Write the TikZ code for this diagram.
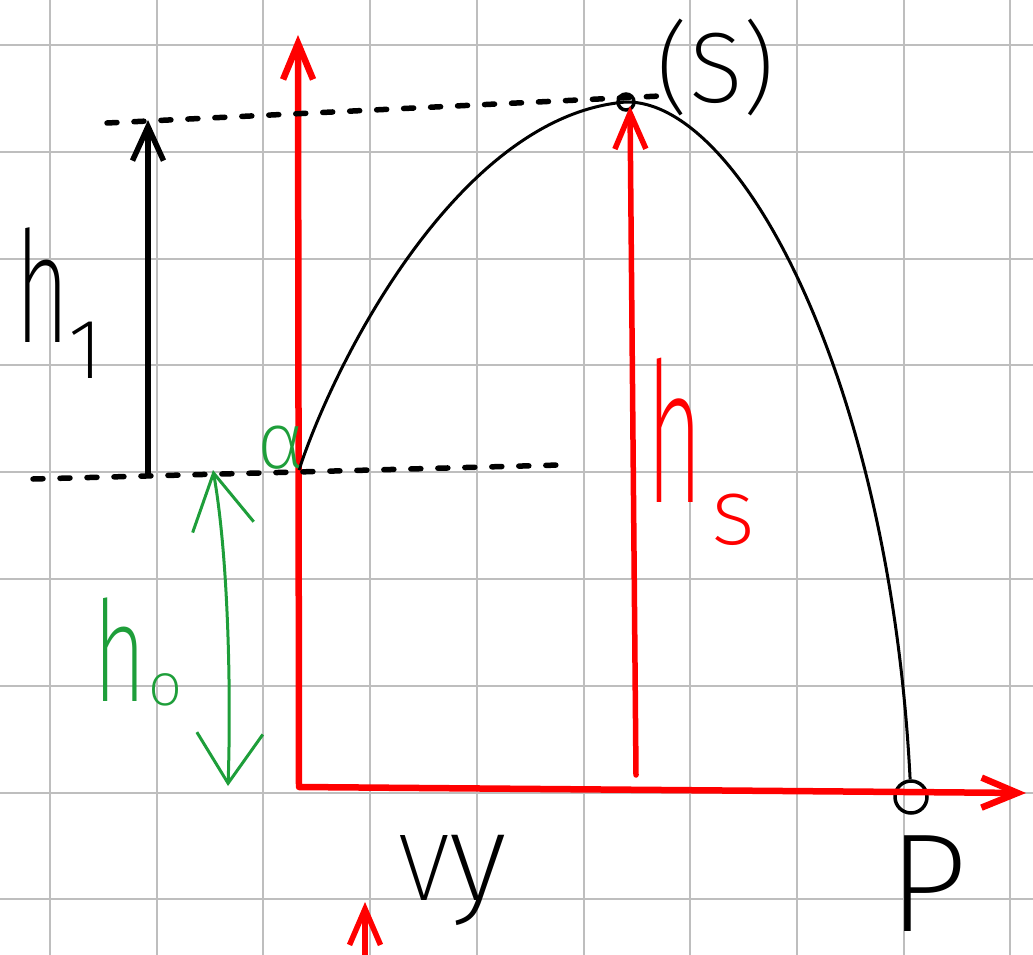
\documentclass[tikz,border=0pt]{standalone}
\usepackage{fontspec}
\usepackage{graphicx}
\usetikzlibrary{arrows.meta}
\IfFontExistsTF{Fira Sans ExtraLight}
  {\newfontfamily\hand{Fira Sans ExtraLight}}
  {\IfFontExistsTF{Fira Sans Light}
     {\newfontfamily\hand{Fira Sans Light}}
     {\newfontfamily\hand{Fira Sans}}}
\newcommand{\penfs}[1]{\fontsize{#1}{#1}\selectfont}
\newcommand{\narrow}[2]{\scalebox{#1}[1]{#2}}
\definecolor{penred}{HTML}{FF0000}
\definecolor{pengreen}{HTML}{1E9E3A}
\definecolor{paper}{HTML}{BEBEBE}
\tikzset{
  gridline/.style={draw=paper, line width=2pt},
  axis/.style={draw=penred, line width=6.5pt, line join=round, line cap=round,
               {Straight Barb[length=36pt,width=30pt]}-{Straight Barb[length=36pt,width=30pt]}},
  redarr/.style={draw=penred, line width=5.5pt, line cap=round,
                 -{Straight Barb[length=36pt,width=31pt]}},
  blkarr/.style={draw=black, line width=5.5pt, line cap=round,
                 -{Straight Barb[length=34pt,width=31pt]}},
  grnarr/.style={draw=pengreen, line width=3pt, line cap=round,
                 {Straight Barb[length=55pt,width=62pt]}-{Straight Barb[length=50pt,width=66pt]}},
  dashline/.style={draw=black, line width=5.5pt, line cap=round, dash pattern=on 10pt off 17pt},
  traj/.style={draw=black, line width=3pt},
  pt/.style={circle, draw=black, line width=3.5pt, inner sep=0pt},
  lbl/.style={inner sep=0pt, font=\hand},
}

\begin{document}
\begin{tikzpicture}[x=1pt, y=-1pt]
\useasboundingbox (0,0) rectangle (1033,955);
% ---- squared paper ----
\foreach \i in {0,...,9}{ \draw[gridline] ({50+106.7*\i},0) -- ({50+106.7*\i},955); }
\foreach \j in {0,...,8}{ \draw[gridline] (0,{45+106.8*\j}) -- (1033,{45+106.8*\j}); }
% ---- points ----
\coordinate (O)     at (299,787);
\coordinate (ytip)  at (298,35);
\coordinate (xtip)  at (1026,793);
\coordinate (A)     at (299,470);
\coordinate (hsfoot) at (636,775);
\coordinate (hstip) at (630,106);
\coordinate (h1foot) at (148,475);
\coordinate (h1tip) at (148,120);
\coordinate (h0top) at (213,470);
\coordinate (h0bot) at (228,786);
\coordinate (vyfoot) at (365,962);
\coordinate (vytip) at (365,902);
\coordinate (topL)  at (107,123);
\coordinate (topR)  at (660,96);
\coordinate (botL)  at (33,479);
\coordinate (botR)  at (560,465);
\node[pt, minimum size=16pt] (apex) at (626,102) {};
\node[pt, minimum size=32pt] (pend) at (911,797) {};
% ---- axes and heights ----
\draw[axis] (ytip) -- (O) -- (xtip);
\draw[redarr] (hsfoot) -- (hstip);
\draw[dashline] (topL) -- (topR);
\draw[dashline] (botL) -- (botR);
\draw[blkarr] (h1foot) -- (h1tip);
\draw[grnarr] (h0top) .. controls (229,560) and (231,700) .. (h0bot);
\draw[redarr] (vyfoot) -- (vytip);
% ---- trajectory ----
\draw[traj] (A) .. controls (335,360) and (460,115) .. (apex.center)
                .. controls (740,100) and (890,380) .. (pend);
% ---- labels ----
\node[lbl, font=\hand\penfs{155}] (h1) at (43,285) {\narrow{0.6}{h}};
\node[lbl, font=\hand\penfs{85}] (h1sub) at (86,350) {1};
\node[lbl, text=pengreen, font=\hand\penfs{140}] (h0) at (120,650) {\narrow{0.65}{h}};
\node[lbl, text=pengreen, font=\hand\penfs{60}] (h0sub) at (166,690) {o};
\node[lbl, text=pengreen, font=\hand\penfs{80}] (alpha) at (281,448) {α};
\node[lbl, text=penred, font=\hand\penfs{195}] (hs) at (675,430) {\narrow{0.5}{h}};
\node[lbl, text=penred, font=\hand\penfs{95}] (hssub) at (733,520) {s};
\node[lbl, font=\hand\penfs{100}] (slabel) at (716,68) {(S)};
\node[lbl, font=\hand\penfs{140}] (plabel) at (928,884) {P};
\node[lbl, anchor=base west, font=\hand\penfs{95}] (vy) at (398,900) {V\penfs{125}y};
\end{tikzpicture}
\end{document}
